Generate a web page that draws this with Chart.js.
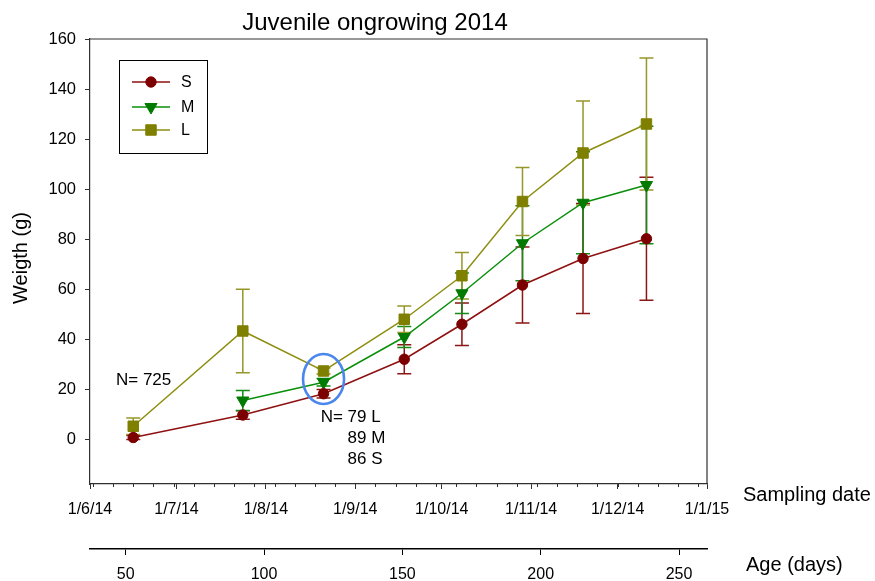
<!DOCTYPE html>
<html>
<head>
<meta charset="utf-8">
<script src="https://cdn.jsdelivr.net/npm/chart.js@4.4.1/dist/chart.umd.min.js"></script>
<style>
  html, body { margin: 0; padding: 0; background: #fff; }
  #wrap { width: 875px; height: 581px; }
</style>
</head>
<body>
<div id="wrap"><canvas id="growth" width="875" height="581"></canvas></div>
<script>
// Sampling dates of the 2014 juvenile ongrowing trial
const samplingDates = ['2014-06-16', '2014-07-24', '2014-08-21', '2014-09-18',
                       '2014-10-08', '2014-10-29', '2014-11-19', '2014-12-11'];

// Mean weight (g) and standard deviation per size group
const weightS = [0.6, 9.6, 18.1, 31.9, 45.9, 61.6, 72.2, 80.1];
const sdS     = [0.8, 1.7, 1.7, 5.8, 8.5, 15.2, 22.0, 24.6];
const weightM = [null, 15.4, 22.7, 40.8, 58.3, 78.3, 94.5, 101.6];
const sdM     = [null, 4.0, 1.5, 4.2, 8.1, 15.0, 20.4, 23.5];
const weightL = [5.1, 43.2, 27.2, 47.9, 65.3, 95.0, 114.4, 126.0];
const sdL     = [3.3, 16.7, 1.2, 5.3, 9.3, 13.6, 20.8, 26.4];

// Axis ticks
const monthTickDates  = ['2014-06-01', '2014-07-01', '2014-08-01', '2014-09-01',
                         '2014-10-01', '2014-11-01', '2014-12-01', '2015-01-01'];
const monthTickLabels = ['1/6/14', '1/7/14', '1/8/14', '1/9/14',
                         '1/10/14', '1/11/14', '1/12/14', '1/1/15'];
// Mondays, as days after 1 June 2014
const weekTickDays = [1, 8, 15, 22, 29, 36, 43, 50, 57, 64, 71, 78, 85, 92, 99, 106,
                      113, 120, 127, 134, 141, 148, 155, 162, 169, 176, 183, 190, 197, 204, 211];
const weightTicks = [0, 20, 40, 60, 80, 100, 120, 140, 160];
const ageTicks    = [50, 100, 150, 200, 250];

// Sample sizes written on the plot
const countNotes = [
  { date: '2014-06-10', value: 23.4, first: 'N= 725', rest: [] },
  { date: '2014-08-20', value: 8.8,  first: 'N= 79 L', rest: ['89 M', '86 S'] }
];

const ORIGIN = Date.UTC(2014, 5, 1);
function dayOf(iso) {
  const [y, m, d] = iso.split('-').map(Number);
  return (Date.UTC(y, m - 1, d) - ORIGIN) / 86400000;
}
const sampleDays = samplingDates.map(dayOf);
const monthDays = monthTickDates.map(dayOf);

const FONT = '"Liberation Sans", Arial, Helvetica, sans-serif';
const INK = '#000';
const AXIS = '#303030';

function series(label, values, sd, color, lineColor, barColor, style, radius, rotation) {
  return {
    label,
    data: sampleDays.map((x, i) => ({ x, y: values[i] })),
    sd,
    borderColor: lineColor,
    backgroundColor: color,
    borderWidth: 1.5,
    pointStyle: style,
    pointRadius: radius,
    pointRotation: rotation,
    pointBackgroundColor: color,
    pointBorderColor: color,
    pointBorderWidth: 1,
    errColor: barColor,
    spanGaps: false,
    tension: 0
  };
}

const datasets = [
  series('S', weightS, sdS, '#7d0000', '#8f1010', '#8a1616', 'circle', 5.2, 0),
  series('M', weightM, sdM, '#007a00', '#0a8f0a', '#158a15', 'triangle', 7, 180),
  series('L', weightL, sdL, '#7f7f00', '#8e8e12', '#96962a', 'rect', 7.4, 0)
];

// Vertical standard-deviation bars with caps
const sdBars = {
  id: 'sdBars',
  beforeDatasetsDraw(chart) {
    const { ctx } = chart;
    const xs = chart.scales.x, ys = chart.scales.y;
    chart.data.datasets.forEach(ds => {
      ctx.save();
      ctx.strokeStyle = ds.errColor;
      ctx.lineWidth = 1.5;
      ds.data.forEach((p, i) => {
        const e = ds.sd[i];
        if (p.y == null || e == null) return;
        const x = xs.getPixelForValue(p.x);
        const top = ys.getPixelForValue(p.y + e);
        const bot = ys.getPixelForValue(p.y - e);
        ctx.beginPath();
        ctx.moveTo(x, top); ctx.lineTo(x, bot);
        ctx.moveTo(x - 7, top); ctx.lineTo(x + 7, top);
        ctx.moveTo(x - 7, bot); ctx.lineTo(x + 7, bot);
        ctx.stroke();
      });
      ctx.restore();
    });
  }
};

// Frame, titles, legend, minor ticks and notes
const decorations = {
  id: 'decorations',
  afterDraw(chart) {
    const { ctx, chartArea: a } = chart;
    const xs = chart.scales.x, ys = chart.scales.y, ages = chart.scales.age;
    ctx.save();

    // top and right edges of the frame
    ctx.strokeStyle = AXIS;
    ctx.lineWidth = 1.2;
    ctx.beginPath();
    ctx.moveTo(a.left, a.top); ctx.lineTo(a.right, a.top); ctx.lineTo(a.right, a.bottom);
    ctx.stroke();

    // weekly minor ticks on the date axis
    ctx.lineWidth = 1;
    ctx.beginPath();
    weekTickDays.forEach(d => {
      const x = Math.round(xs.getPixelForValue(d)) + 0.5;
      ctx.moveTo(x, a.bottom); ctx.lineTo(x, a.bottom + 3);
    });
    ctx.stroke();

    // chart title
    ctx.fillStyle = INK;
    ctx.font = '24px ' + FONT;
    ctx.textAlign = 'center';
    ctx.textBaseline = 'alphabetic';
    ctx.fillText('Juvenile ongrowing 2014', 375, 30);

    // y axis title
    ctx.save();
    ctx.translate(21, 258);
    ctx.rotate(-Math.PI / 2);
    ctx.font = '20px ' + FONT;
    ctx.textAlign = 'center';
    ctx.textBaseline = 'middle';
    ctx.fillText('Weigth (g)', 0, 0);
    ctx.restore();

    // axis titles at the right of each horizontal axis
    ctx.font = '20px ' + FONT;
    ctx.textAlign = 'left';
    ctx.textBaseline = 'alphabetic';
    ctx.fillText('Sampling date', a.right + 36, xs.top + 17);
    ctx.fillText('Age (days)', a.right + 39, ages.top + 22);

    // legend box
    const bx = a.left + 29, by = a.top + 21, bw = 88, bh = 93;
    ctx.strokeStyle = '#000';
    ctx.lineWidth = 1;
    ctx.strokeRect(bx + 0.5, by + 0.5, bw, bh);
    const rowY = [by + 22, by + 47, by + 70];
    ctx.font = '16px ' + FONT;
    ctx.textBaseline = 'middle';
    chart.data.datasets.forEach((ds, i) => {
      const y = rowY[i];
      ctx.strokeStyle = ds.borderColor;
      ctx.lineWidth = 1.5;
      ctx.beginPath();
      ctx.moveTo(bx + 13, y); ctx.lineTo(bx + 51, y);
      ctx.stroke();
      ctx.fillStyle = ds.pointBackgroundColor;
      ctx.strokeStyle = ds.pointBorderColor;
      ctx.lineWidth = 1;
      Chart.helpers.drawPoint(ctx, {
        pointStyle: ds.pointStyle, radius: ds.pointRadius,
        rotation: ds.pointRotation, borderWidth: 1
      }, bx + 32, y);
      ctx.fillStyle = INK;
      ctx.fillText(ds.label, bx + 62, y + 1);
    });

    // sample-size notes
    ctx.font = '17px ' + FONT;
    ctx.textAlign = 'left';
    ctx.textBaseline = 'middle';
    ctx.fillStyle = INK;
    countNotes.forEach(n => {
      const x = xs.getPixelForValue(dayOf(n.date));
      const y = ys.getPixelForValue(n.value);
      ctx.fillText(n.first, x, y);
      const indent = ctx.measureText('N= ').width;
      n.rest.forEach((t, k) => ctx.fillText(t, x + indent, y + 21 * (k + 1)));
    });

    // highlight ring round the August sampling
    const cx = xs.getPixelForValue(sampleDays[2]);
    const cy = ys.getPixelForValue(24);
    ctx.strokeStyle = '#4a86ee';
    ctx.lineWidth = 2.6;
    ctx.beginPath();
    ctx.ellipse(cx, cy, 20.5, 25, 0, 0, Math.PI * 2);
    ctx.stroke();

    ctx.restore();
  }
};

function fixedTicks(values) {
  return scale => { scale.ticks = values.map(v => ({ value: v })); };
}

new Chart(document.getElementById('growth'), {
  type: 'line',
  data: { datasets },
  options: {
    responsive: false,
    animation: false,
    devicePixelRatio: 1,
    layout: { padding: { top: 39, right: 168, bottom: 0, left: 0 } },
    plugins: { legend: { display: false }, tooltip: { enabled: false }, title: { display: false } },
    scales: {
      x: {
        type: 'linear',
        position: 'bottom',
        weight: 0,
        min: 0,
        max: 214,
        afterBuildTicks: fixedTicks(monthDays),
        afterFit: s => { s.height = 65; s.paddingLeft = 0; s.paddingRight = 0; },
        ticks: {
          autoSkip: false, maxRotation: 0, padding: 11, color: INK,
          font: { family: FONT, size: 16 },
          callback: v => monthTickLabels[monthDays.indexOf(v)]
        },
        grid: { drawOnChartArea: false, drawTicks: true, tickLength: 5, tickColor: AXIS, tickWidth: 1 },
        border: { display: true, color: AXIS, width: 1.2 }
      },
      age: {
        type: 'linear',
        position: 'bottom',
        axis: 'x',
        weight: 1,
        min: 37.1,
        max: 260.1,
        afterBuildTicks: fixedTicks(ageTicks),
        afterFit: s => { s.height = 32; s.paddingLeft = 0; s.paddingRight = 0; },
        ticks: {
          autoSkip: false, maxRotation: 0, padding: 10, color: INK,
          font: { family: FONT, size: 16 }
        },
        grid: { drawOnChartArea: false, drawTicks: true, tickLength: 6, tickColor: '#000', tickWidth: 1 },
        border: { display: true, color: '#000', width: 1.5 }
      },
      y: {
        type: 'linear',
        position: 'left',
        min: -18,
        max: 160,
        afterBuildTicks: fixedTicks(weightTicks),
        afterFit: s => { s.width = 90; s.paddingTop = 0; s.paddingBottom = 0; },
        ticks: {
          padding: 9, color: INK,
          font: { family: FONT, size: 16.5 }
        },
        grid: { drawOnChartArea: false, drawTicks: true, tickLength: 5, tickColor: AXIS, tickWidth: 1 },
        border: { display: true, color: AXIS, width: 1.2 }
      }
    }
  },
  plugins: [sdBars, decorations]
});
</script>
</body>
</html>
